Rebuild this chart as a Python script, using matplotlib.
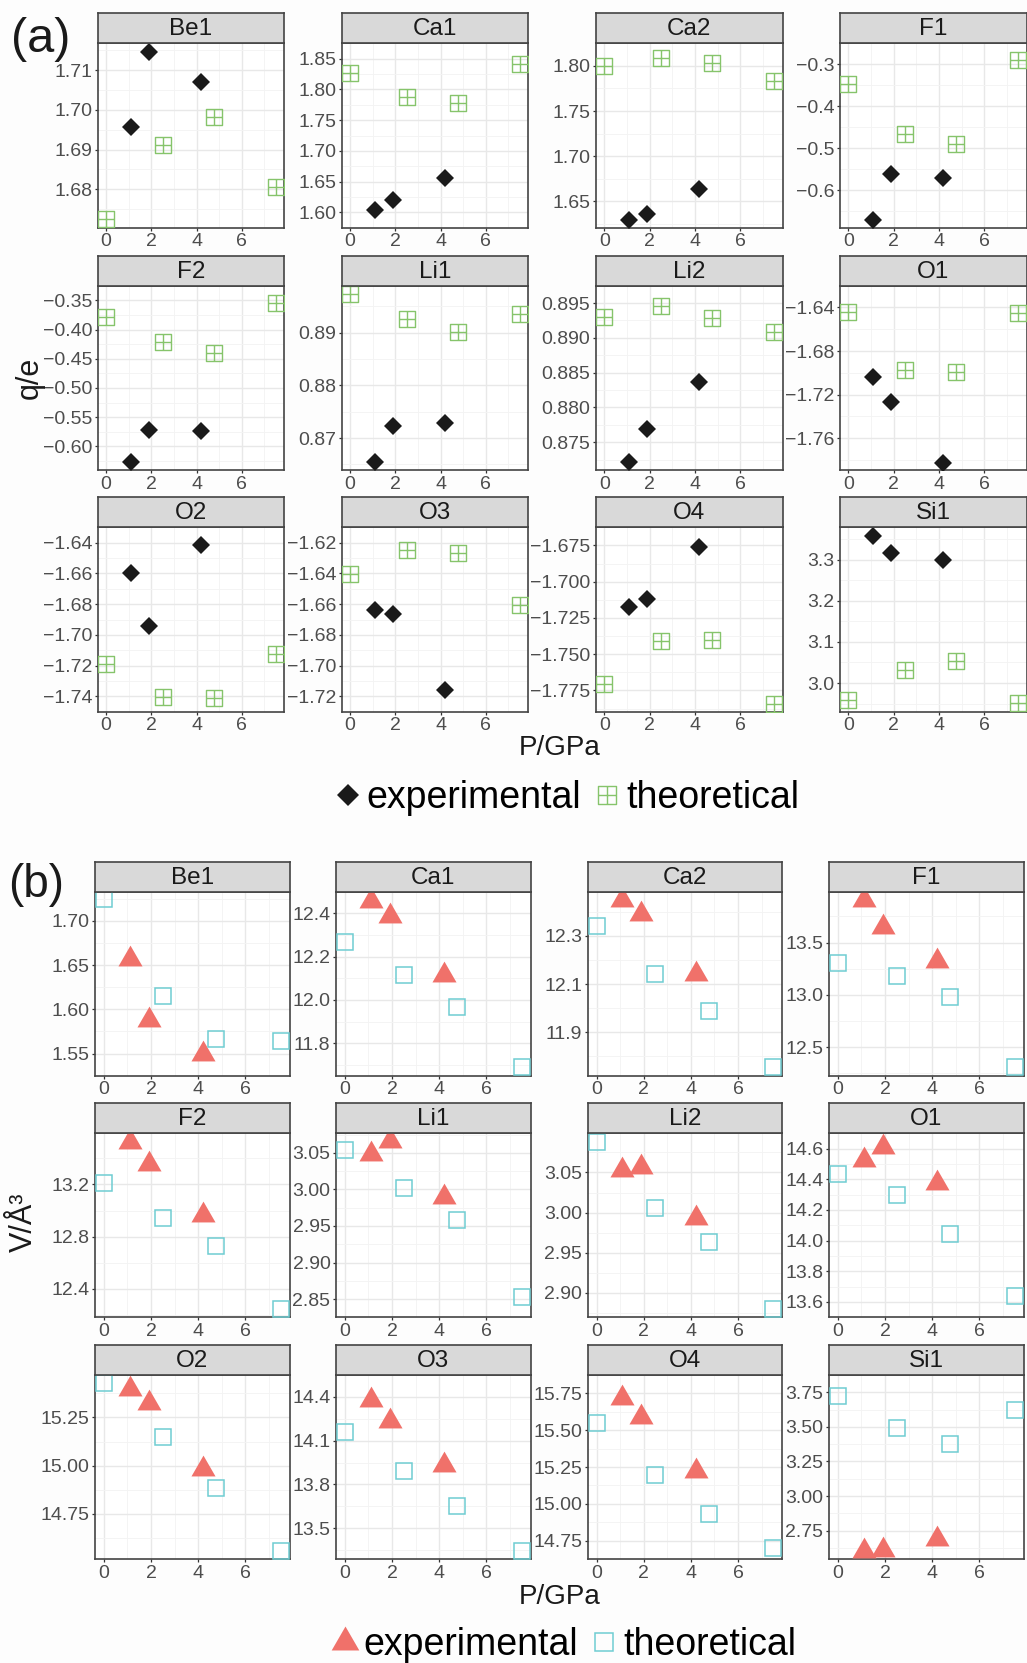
import matplotlib.pyplot as plt
from matplotlib.path import Path
from matplotlib.lines import Line2D

plt.rcParams['font.family'] = ['Liberation Sans', 'DejaVu Sans']

# ---- data ----
sites = ['Be1', 'Ca1', 'Ca2', 'F1', 'F2', 'Li1', 'Li2', 'O1', 'O2', 'O3', 'O4', 'Si1']
p_exp = [1.1, 1.9, 4.2]
p_theo = [0.0, 2.5, 4.75, 7.5]
x_ticks = [0, 2, 4, 6]

# (a) charges q/e
q_exp = [
    [1.6957, 1.7147, 1.7071], [1.6038, 1.6199, 1.6557], [1.6296, 1.6357, 1.6632],
    [-0.670, -0.5618, -0.5695], [-0.6272, -0.5718, -0.5734], [0.8655, 0.8722, 0.8729],
    [0.8721, 0.8769, 0.8836], [-1.7035, -1.7264, -1.7824], [-1.6596, -1.6944, -1.6412],
    [-1.6640, -1.6664, -1.7155], [-1.7173, -1.7119, -1.6761], [3.3585, 3.3154, 3.300],
]
q_theo = [
    [1.6724, 1.6911, 1.6982, 1.6805], [1.827, 1.7872, 1.7777, 1.841],
    [1.8000, 1.8082, 1.8029, 1.7829], [-0.348, -0.4656, -0.490, -0.289],
    [-0.3783, -0.4218, -0.4408, -0.3554], [0.8973, 0.8926, 0.8901, 0.8936],
    [0.8930, 0.8946, 0.8928, 0.8909], [-1.6439, -1.6974, -1.6993, -1.6455],
    [-1.7186, -1.7402, -1.7412, -1.7124], [-1.6405, -1.6246, -1.6264, -1.6604],
    [-1.7702, -1.7410, -1.7399, -1.7843], [2.9585, 3.0309, 3.0537, 2.9504],
]
q_ticks = [
    [1.68, 1.69, 1.70, 1.71], [1.60, 1.65, 1.70, 1.75, 1.80, 1.85], [1.65, 1.70, 1.75, 1.80],
    [-0.6, -0.5, -0.4, -0.3], [-0.60, -0.55, -0.50, -0.45, -0.40, -0.35], [0.87, 0.88, 0.89],
    [0.875, 0.880, 0.885, 0.890, 0.895], [-1.76, -1.72, -1.68, -1.64],
    [-1.74, -1.72, -1.70, -1.68, -1.66, -1.64], [-1.72, -1.70, -1.68, -1.66, -1.64, -1.62],
    [-1.775, -1.750, -1.725, -1.700, -1.675], [3.0, 3.1, 3.2, 3.3],
]

# (b) volumes V/A^3
v_exp = [
    [1.6572, 1.5875, 1.5500], [12.458, 12.389, 12.117], [12.449, 12.392, 12.142],
    [13.906, 13.651, 13.325], [13.528, 13.357, 12.965], [3.0484, 3.0662, 2.9895],
    [3.0533, 3.0564, 2.9936], [14.523, 14.613, 14.373], [15.396, 15.324, 14.981],
    [14.379, 14.235, 13.935], [15.719, 15.589, 15.220], [2.601, 2.608, 2.689],
]
v_theo = [
    [1.7243, 1.6149, 1.567, 1.5646], [12.266, 12.117, 11.966, 11.688],
    [12.342, 12.142, 11.988, 11.754], [13.305, 13.179, 12.978, 12.308],
    [13.208, 12.944, 12.731, 12.246], [3.0543, 3.0021, 2.9585, 2.853],
    [3.0884, 3.0063, 2.9633, 2.880], [14.433, 14.297, 14.043, 13.641],
    [15.426, 15.147, 14.884, 14.560], [14.160, 13.889, 13.655, 13.341],
    [15.547, 15.197, 14.929, 14.699], [3.721, 3.489, 3.373, 3.625],
]
v_ticks = [
    [1.55, 1.60, 1.65, 1.70], [11.8, 12.0, 12.2, 12.4], [11.9, 12.1, 12.3],
    [12.5, 13.0, 13.5], [12.4, 12.8, 13.2], [2.85, 2.90, 2.95, 3.00, 3.05],
    [2.90, 2.95, 3.00, 3.05], [13.6, 13.8, 14.0, 14.2, 14.4, 14.6],
    [14.75, 15.00, 15.25], [13.5, 13.8, 14.1, 14.4],
    [14.75, 15.00, 15.25, 15.50, 15.75], [2.75, 3.00, 3.25, 3.50, 3.75],
]

# ---- markers ----
boxplus = Path([(-1, -1), (1, -1), (1, 1), (-1, 1), (-1, -1), (0, -1), (0, 1), (-1, 0), (1, 0)],
               [Path.MOVETO, Path.LINETO, Path.LINETO, Path.LINETO, Path.CLOSEPOLY,
                Path.MOVETO, Path.LINETO, Path.MOVETO, Path.LINETO])
tri = Path([(0, 1), (-0.866, -0.5), (0.866, -0.5), (0, 1)], closed=True)

green = '#86c46b'
cyan = '#6fcdd2'
red = '#f0716a'
a_exp_kw = dict(marker='D', ms=9, mew=0, color='#1a1a1a')
a_theo_kw = dict(marker=boxplus, ms=12, mew=1.0, mfc='none', mec=green)
b_exp_kw = dict(marker=tri, ms=20, mew=0, color=red)
b_theo_kw = dict(marker='s', ms=12, mew=1.1, mfc='none', mec=cyan)

W, H = 1027, 1663
fig = plt.figure(figsize=(W / 100, H / 100), dpi=100, facecolor='#fdfdfd')


def px_axes(left, top, w, h):
    return fig.add_axes([left / W, 1 - (top + h) / H, w / W, h / H])


def n_dec(ticks):
    d = 0
    for t in ticks:
        k = 0
        while abs(round(t, k) - t) > 1e-9:
            k += 1
        d = max(d, k)
    return d


def panel(left, top, w, h, name, ye, yt, ticks, ekw, tkw):
    ax = px_axes(left, top, w, h)
    ax.set_facecolor('white')
    ax.plot(p_exp, ye, ls='none', zorder=3, **ekw)
    ax.plot(p_theo, yt, ls='none', zorder=3, **tkw)
    # ggplot-like 5% expansion
    xs = p_exp + p_theo
    xr = max(xs) - min(xs)
    ax.set_xlim(min(xs) - 0.05 * xr, max(xs) + 0.05 * xr)
    ys = ye + yt
    yr = max(ys) - min(ys)
    ax.set_ylim(min(ys) - 0.05 * yr, max(ys) + 0.05 * yr)
    ax.set_xticks(x_ticks)
    ax.set_xticklabels([str(t) for t in x_ticks])
    ax.set_xticks([t + 1 for t in x_ticks], minor=True)
    d = n_dec(ticks)
    ax.set_yticks(ticks)
    ax.set_yticklabels([f"{t:.{d}f}".replace('-', '\u2212') for t in ticks])
    step = ticks[1] - ticks[0]
    ax.set_yticks([ticks[0] - step / 2] + [t + step / 2 for t in ticks], minor=True)
    ax.grid(True, which='major', color='#e8e8e8', lw=1.0)
    ax.grid(True, which='minor', color='#f3f3f3', lw=0.6)
    ax.set_axisbelow(True)
    ax.tick_params(which='major', length=2.5, width=0.9, color='#333333', pad=1.5,
                   labelsize=14, labelcolor='#4d4d4d')
    ax.tick_params(which='minor', length=0)
    for s in ax.spines.values():
        s.set_color('#444444')
        s.set_linewidth(1.2)
    st = px_axes(left, top - 30, w, 30)
    st.set_facecolor('#d9d9d9')
    st.set_xticks([])
    st.set_yticks([])
    for s in st.spines.values():
        s.set_color('#444444')
        s.set_linewidth(1.2)
    st.text(0.5, 0.47, name, ha='center', va='center', fontsize=17.5, color='#1a1a1a',
            transform=st.transAxes)
    return ax


# ---- (a) ----
a_cols = [97.7, 341.7, 596.0, 840.0]
a_rows = [43.3, 285.7, 527.3]
for i, name in enumerate(sites):
    r, c = divmod(i, 4)
    panel(a_cols[c], a_rows[r], 186.5, 184.5, name, q_exp[i], q_theo[i], q_ticks[i],
          a_exp_kw, a_theo_kw)

# ---- (b) ----
b_cols = [95.0, 336.0, 587.7, 829.0]
b_rows = [891.7, 1133.3, 1375.0]
for i, name in enumerate(sites):
    r, c = divmod(i, 4)
    panel(b_cols[c], b_rows[r], 194.5, 184.0, name, v_exp[i], v_theo[i], v_ticks[i],
          b_exp_kw, b_theo_kw)

# labels
fig.text(41 / W, 1 - 40 / H, '(a)', fontsize=35, ha='center', va='center', color='#1a1a1a')
fig.text(36 / W, 1 - 885 / H, '(b)', fontsize=33, ha='center', va='center', color='#1a1a1a')
fig.text(30 / W, 1 - 378 / H, 'q/e', fontsize=22, rotation=90, ha='center', va='center',
         color='#1a1a1a')
fig.text(24 / W, 1 - 1222 / H, 'V/Å³', fontsize=22, rotation=90, ha='center', va='center',
         color='#1a1a1a')
fig.text(560 / W, 1 - 748 / H, 'P/GPa', fontsize=20, ha='center', va='center', color='#1a1a1a')
fig.text(560 / W, 1 - 1597 / H, 'P/GPa', fontsize=20, ha='center', va='center', color='#1a1a1a')

leg_kw = dict(loc='center', ncol=2, frameon=False, fontsize=27, handletextpad=0.05,
              columnspacing=0.25, handlelength=0.9, borderpad=0, borderaxespad=0)
ha = [Line2D([], [], ls='none', **dict(a_exp_kw, ms=11)),
      Line2D([], [], ls='none', **dict(a_theo_kw, ms=13))]
fig.legend(ha, ['experimental', 'theoretical'], bbox_to_anchor=(565 / W, 1 - 798 / H), **leg_kw)
hb = [Line2D([], [], ls='none', **dict(b_exp_kw, ms=23)),
      Line2D([], [], ls='none', **dict(b_theo_kw, ms=13))]
fig.legend(hb, ['experimental', 'theoretical'], bbox_to_anchor=(562 / W, 1 - 1645 / H), **leg_kw)

fig.savefig('out.png', dpi=100, facecolor=fig.get_facecolor())
